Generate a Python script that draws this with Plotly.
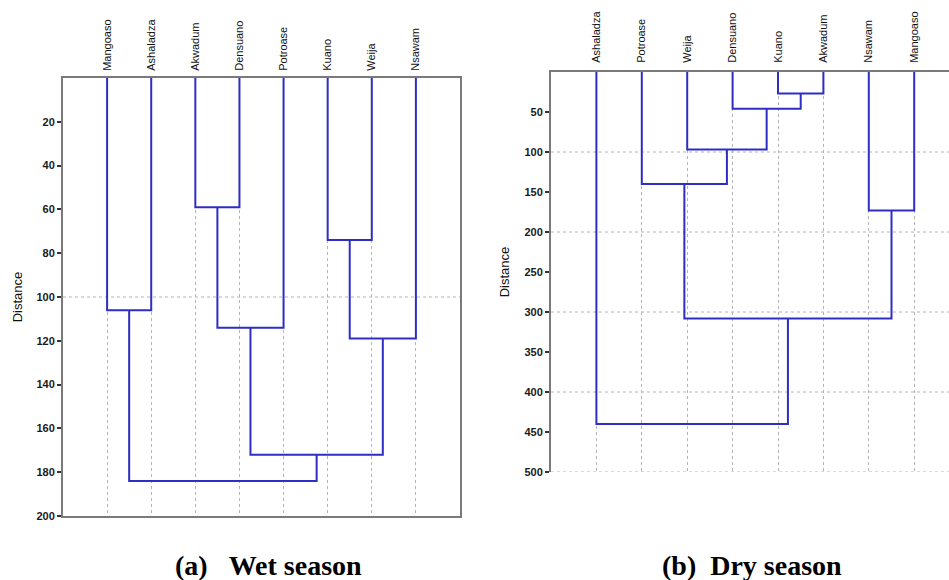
import plotly.graph_objects as go

# ---------------- data ----------------
wet_leaves = ["Mangoaso", "Ashaladza", "Akwadum", "Densuano", "Potroase", "Kuano", "Weija", "Nsawam"]
# merges: (child_a, child_b, distance); leaves are 0..7, new clusters numbered 8, 9, ...
wet_merge_a = [2, 5, 0, 8, 9, 11, 10]
wet_merge_b = [3, 6, 1, 4, 7, 12, 13]
wet_heights = [59, 74, 106, 114, 119, 172, 184]

dry_leaves = ["Ashaladza", "Potroase", "Weija", "Densuano", "Kuano", "Akwadum", "Nsawam", "Mangoaso"]
dry_merge_a = [4, 3, 2, 1, 6, 11, 0]
dry_merge_b = [5, 8, 9, 10, 7, 12, 13]
dry_heights = [27, 46, 97, 140, 173, 308, 440]

wet_ticks = [20, 40, 60, 80, 100, 120, 140, 160, 180, 200]
dry_ticks = [50, 100, 150, 200, 250, 300, 350, 400, 450, 500]

LINE = "#2e2ec4"
GRID = "#b4b4b4"
AXIS = "#7a7a7a"


def dendro_xy(leaves, ma, mb, hs):
    pos = {i: (i + 1, 0.0) for i in range(len(leaves))}
    xs, ys = [], []
    for k, (a, b, h) in enumerate(zip(ma, mb, hs)):
        xa, ha = pos[a]
        xb, hb = pos[b]
        xs += [xa, xa, xb, xb, None]
        ys += [ha, h, h, hb, None]
        pos[len(leaves) + k] = ((xa + xb) / 2, h)
    return xs, ys


fig = go.Figure()

wx, wy = dendro_xy(wet_leaves, wet_merge_a, wet_merge_b, wet_heights)
dx, dy = dendro_xy(dry_leaves, dry_merge_a, dry_merge_b, dry_heights)

fig.add_trace(go.Scatter(x=wx, y=wy, mode="lines", xaxis="x", yaxis="y",
                         line=dict(color=LINE, width=2), showlegend=False, hoverinfo="skip"))
fig.add_trace(go.Scatter(x=dx, y=dy, mode="lines", xaxis="x2", yaxis="y2",
                         line=dict(color=LINE, width=2), showlegend=False, hoverinfo="skip"))

tickfont = dict(family="Liberation Sans, Arial", size=11, color="#1a1a1a", weight="bold")
labfont = dict(family="Liberation Sans, Arial", size=11, color="#111111")
titfont = dict(family="Liberation Sans, Arial", size=13, color="#111111")

fig.update_layout(
    width=949, height=580,
    margin=dict(l=0, r=0, t=0, b=0),
    paper_bgcolor="white", plot_bgcolor="white",
    showlegend=False,
    xaxis=dict(
        domain=[63 / 949, 460 / 949], range=[0, 9], side="top",
        tickvals=list(range(1, 9)), ticktext=wet_leaves, tickangle=-90,
        tickfont=labfont, ticks="outside", ticklen=3, tickcolor="rgba(0,0,0,0)",
        showgrid=True, gridcolor=GRID, griddash="dot", gridwidth=1,
        showline=True, linecolor=AXIS, linewidth=2, mirror=True,
        zeroline=False, anchor="y", automargin=False,
    ),
    yaxis=dict(
        domain=[1 - 516 / 580, 1 - 78 / 580], range=[200, 0],
        tickvals=wet_ticks, tickfont=tickfont,
        ticks="outside", ticklen=4, tickwidth=2, tickcolor="#333333",
        showgrid=False, showline=True, linecolor=AXIS, linewidth=2, mirror=True,
        zeroline=False, anchor="x", automargin=False,
        title=dict(text="Distance", font=titfont, standoff=11),
    ),
    xaxis2=dict(
        domain=[551 / 949, 1.0], range=[0, 398 / 45.4], side="top",
        tickvals=list(range(1, 9)), ticktext=dry_leaves, tickangle=-90,
        tickfont=labfont, ticks="outside", ticklen=5, tickcolor="rgba(0,0,0,0)",
        showgrid=True, gridcolor=GRID, griddash="dot", gridwidth=1,
        showline=True, linecolor=AXIS, linewidth=2, mirror=False,
        zeroline=False, anchor="y2", automargin=False,
    ),
    yaxis2=dict(
        domain=[1 - 472 / 580, 1 - 72 / 580], range=[500, 0],
        tickvals=dry_ticks, tickfont=tickfont,
        ticks="outside", ticklen=4, tickwidth=2, tickcolor="#333333",
        showgrid=False, showline=True, linecolor=AXIS, linewidth=2, mirror=False,
        zeroline=False, anchor="x2", automargin=False,
        title=dict(text="Distance", font=titfont, standoff=12),
    ),
)

# horizontal dotted grid lines
shapes = [dict(type="line", xref="x domain", yref="y", x0=0, x1=1, y0=100, y1=100,
               line=dict(color=GRID, width=1, dash="dot"), layer="below")]
for v in [100, 200, 300, 400, 500]:
    shapes.append(dict(type="line", xref="x2 domain", yref="y2", x0=0, x1=1, y0=v, y1=v,
                       line=dict(color=GRID, width=1, dash="dot"), layer="below"))
fig.update_layout(shapes=shapes)

capfont = dict(family="Liberation Serif, Times New Roman", size=28, color="black")
fig.add_annotation(text="<b>(a)&nbsp;&nbsp;&nbsp;Wet season</b>", xref="paper", yref="paper",
                   x=268 / 949, y=1 - 565 / 580, xanchor="center", yanchor="middle",
                   showarrow=False, font=capfont)
fig.add_annotation(text="<b>(b)&nbsp;&nbsp;Dry season</b>", xref="paper", yref="paper",
                   x=752 / 949, y=1 - 565 / 580, xanchor="center", yanchor="middle",
                   showarrow=False, font=capfont)

fig.write_html("out.html", config={"displayModeBar": False},
               post_script="document.body.style.margin='0';document.body.style.overflow='hidden';")
